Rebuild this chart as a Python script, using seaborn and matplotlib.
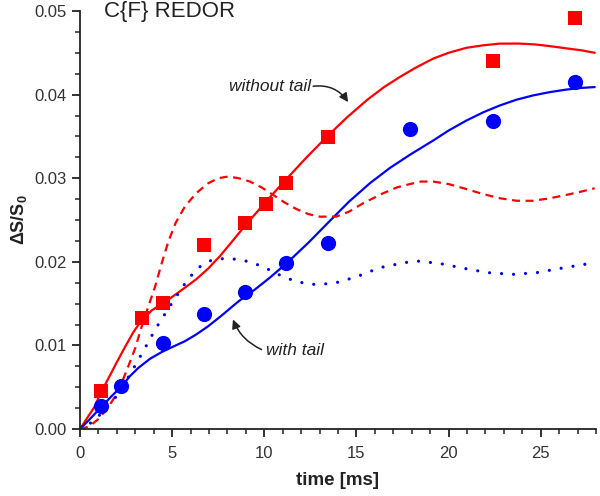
import numpy as np
import pandas as pd
import matplotlib
matplotlib.use("Agg")
import matplotlib.pyplot as plt
import seaborn as sns

# ---- measured data ----
t_red = [1.12, 3.36, 4.48, 6.72, 8.96, 10.08, 11.2, 13.44, 22.4, 26.88]
y_red = [0.0046, 0.0133, 0.0151, 0.0220, 0.0247, 0.0269, 0.0294, 0.0349, 0.0440, 0.0492]

t_blue = [1.12, 2.24, 4.48, 6.72, 8.96, 11.2, 13.44, 17.92, 22.4, 26.88]
y_blue = [0.0028, 0.0052, 0.0103, 0.0137, 0.0164, 0.0198, 0.0222, 0.0359, 0.0368, 0.0415]

# fit curves
fit_red_t = [0, 0.8, 1.12, 1.6, 2.0, 2.44, 2.9, 3.34, 3.9, 4.47, 5.0, 5.69, 6.3, 6.96, 7.6,
             8.13, 8.95, 10.09, 11.2, 12.3, 13.41, 14.5, 15.6, 16.5, 17.35, 18.2, 19.16,
             20.0, 20.97, 21.9, 22.78, 23.86, 24.7, 25.49, 26.5, 27.2, 27.93]
fit_red_y = [0, 0.0027, 0.0043, 0.0063, 0.0080, 0.0098, 0.0116, 0.0130, 0.0142, 0.0150,
             0.0158, 0.0169, 0.0179, 0.0192, 0.0207, 0.0221, 0.0243, 0.0272, 0.0299,
             0.0325, 0.0350, 0.0373, 0.0394, 0.0409, 0.0421, 0.0432, 0.0443, 0.0450,
             0.0456, 0.0459, 0.0461, 0.0461, 0.0460, 0.0458, 0.0455, 0.0453, 0.0450]

fit_blue_t = [0, 0.5, 1.14, 1.7, 2.26, 2.7, 3.16, 3.8, 4.43, 5.0, 5.69, 6.3, 6.96, 7.7, 8.4,
              8.68, 9.5, 10.3, 11.2, 12.4, 13.56, 14.6, 15.73, 16.8, 17.9, 19.16, 20.0,
              20.97, 21.9, 22.78, 23.7, 24.58, 25.5, 26.39, 27.2, 27.93]
fit_blue_y = [0, 0.0011, 0.0026, 0.0039, 0.0051, 0.0063, 0.0073, 0.0084, 0.0092, 0.0098,
              0.0105, 0.0113, 0.0123, 0.0136, 0.0149, 0.0154, 0.0167, 0.0181, 0.0198,
              0.0223, 0.0249, 0.0272, 0.0294, 0.0312, 0.0328, 0.0345, 0.0357, 0.0369,
              0.0379, 0.0387, 0.0394, 0.0399, 0.0403, 0.0406, 0.0408, 0.0409]

dash_red_t = [0, 0.5, 1.0, 1.5, 2.08, 2.62, 3.0, 3.34, 3.7, 4.07, 4.43, 4.79, 5.2, 5.69,
              6.3, 6.96, 7.5, 8.04, 8.6, 9.22, 9.85, 10.48, 11.1, 11.75, 12.4, 13.0, 13.9,
              14.6, 15.36, 16.45, 17.2, 17.9, 18.5, 19.16, 20.0, 20.97, 21.87, 22.78,
              23.7, 24.58, 25.5, 26.39, 27.2, 27.93]
dash_red_y = [0, 0.0003, 0.0012, 0.0025, 0.0045, 0.0075, 0.0097, 0.0122, 0.0146, 0.0170,
              0.0198, 0.0224, 0.0247, 0.0266, 0.0282, 0.0294, 0.0300, 0.0302, 0.0300,
              0.0296, 0.0289, 0.0280, 0.0271, 0.0263, 0.0257, 0.0254, 0.0254, 0.0260,
              0.0270, 0.0282, 0.0289, 0.0293, 0.0296, 0.0296, 0.0293, 0.0287, 0.0281,
              0.0276, 0.0273, 0.0273, 0.0276, 0.0280, 0.0284, 0.0288]

dot_blue_t = [0, 0.72, 1.3, 1.9, 2.71, 3.43, 4.16, 4.97, 5.88, 6.5, 7.14, 7.86, 8.5, 9.2,
              9.94, 11.03, 11.8, 12.6, 13.74, 15.0, 16.27, 17.62, 18.26, 19.52, 20.88,
              22.14, 23.5, 24.77, 26.03, 27.39, 28.0]
dot_blue_y = [0, 0.0009, 0.0022, 0.0037, 0.0065, 0.0093, 0.0122, 0.0150, 0.0180, 0.0194,
              0.0202, 0.0204, 0.0203, 0.0200, 0.0194, 0.0182, 0.0176, 0.0173, 0.0174,
              0.0182, 0.0193, 0.0199, 0.0201, 0.0198, 0.0192, 0.0187, 0.0185, 0.0187,
              0.0192, 0.0197, 0.0199]

x_ticks = [0, 5, 10, 15, 20, 25]
y_ticks = [0.00, 0.01, 0.02, 0.03, 0.04, 0.05]

RED = "#ff0000"
BLUE = "#0000ff"

sns.set_style("ticks")
plt.rcParams["font.family"] = ["Liberation Sans", "DejaVu Sans"]
plt.rcParams["mathtext.fontset"] = "custom"
plt.rcParams["mathtext.rm"] = "Liberation Sans"
plt.rcParams["mathtext.bf"] = "Liberation Sans:bold"

fig = plt.figure(figsize=(6, 4.96), dpi=100)
ax = fig.add_axes([80 / 600, 67 / 496, 516 / 600, 418 / 496])

sns.lineplot(x=fit_red_t, y=fit_red_y, ax=ax, color=RED, lw=1.6, sort=False)
sns.lineplot(x=fit_blue_t, y=fit_blue_y, ax=ax, color=BLUE, lw=1.6, sort=False)
sns.lineplot(x=dash_red_t, y=dash_red_y, ax=ax, color=RED, lw=1.6, sort=False)
ax.lines[-1].set_dashes([3.6, 2.5])
sns.lineplot(x=dot_blue_t, y=dot_blue_y, ax=ax, color=BLUE, lw=2.3, sort=False)
ax.lines[-1].set_dashes([0.01, 3.75])
ax.lines[-1].set_dash_capstyle("round")

sns.scatterplot(x=t_red, y=y_red, ax=ax, marker="s", s=95, color=RED,
                edgecolor=RED, linewidth=0, zorder=5)
sns.scatterplot(x=t_blue, y=y_blue, ax=ax, marker="o", s=120, color=BLUE,
                edgecolor=BLUE, linewidth=0, zorder=5)

ax.set_xlim(0, 28)
ax.set_ylim(0, 0.05)
ax.set_xticks(x_ticks)
ax.set_yticks(y_ticks)
ax.set_xticklabels([str(v) for v in x_ticks])
ax.set_yticklabels([f"{v:.2f}" for v in y_ticks])
ax.xaxis.set_minor_locator(matplotlib.ticker.MultipleLocator(1))
ax.yaxis.set_minor_locator(matplotlib.ticker.MultipleLocator(0.0025))

sns.despine(ax=ax)
for s in ["left", "bottom"]:
    ax.spines[s].set_color("#222222")
    ax.spines[s].set_linewidth(1.3)
ax.tick_params(which="major", length=6, width=1.3, color="#222222",
               labelsize=12, labelcolor="#333333", direction="out")
ax.tick_params(which="minor", length=3.5, width=1.1, color="#222222", direction="out")
ax.tick_params(axis="x", pad=6)
ax.tick_params(axis="y", pad=3.5)

ax.set_xlabel("time [ms]", fontsize=13.5, fontweight="bold", color="#222222", labelpad=8)
ax.set_ylabel(r"ΔS/S$_\mathbf{0}$", fontsize=13, fontweight="bold", color="#222222",
              labelpad=4)

ax.text(24 / 516, 1.0, "C{F} REDOR", transform=ax.transAxes, fontsize=16,
        color="#222222", ha="left", va="center")

ax.annotate("", xy=(14.55, 0.0391), xytext=(12.65, 0.0410),
            arrowprops=dict(arrowstyle="-|>", color="#222222", lw=1.1,
                            mutation_scale=13, connectionstyle="arc3,rad=-0.3",
                            shrinkA=0, shrinkB=0))
ax.text(12.55, 0.0410, "without tail", fontsize=12.5, style="italic",
        color="#222222", ha="right", va="center")

ax.annotate("", xy=(8.3, 0.0131), xytext=(9.85, 0.0095),
            arrowprops=dict(arrowstyle="-|>", color="#222222", lw=1.1,
                            mutation_scale=13, connectionstyle="arc3,rad=-0.2",
                            shrinkA=0, shrinkB=0))
ax.text(10.1, 0.0094, "with tail", fontsize=12.5, style="italic",
        color="#222222", ha="left", va="center")

fig.savefig("out.png", dpi=100)
